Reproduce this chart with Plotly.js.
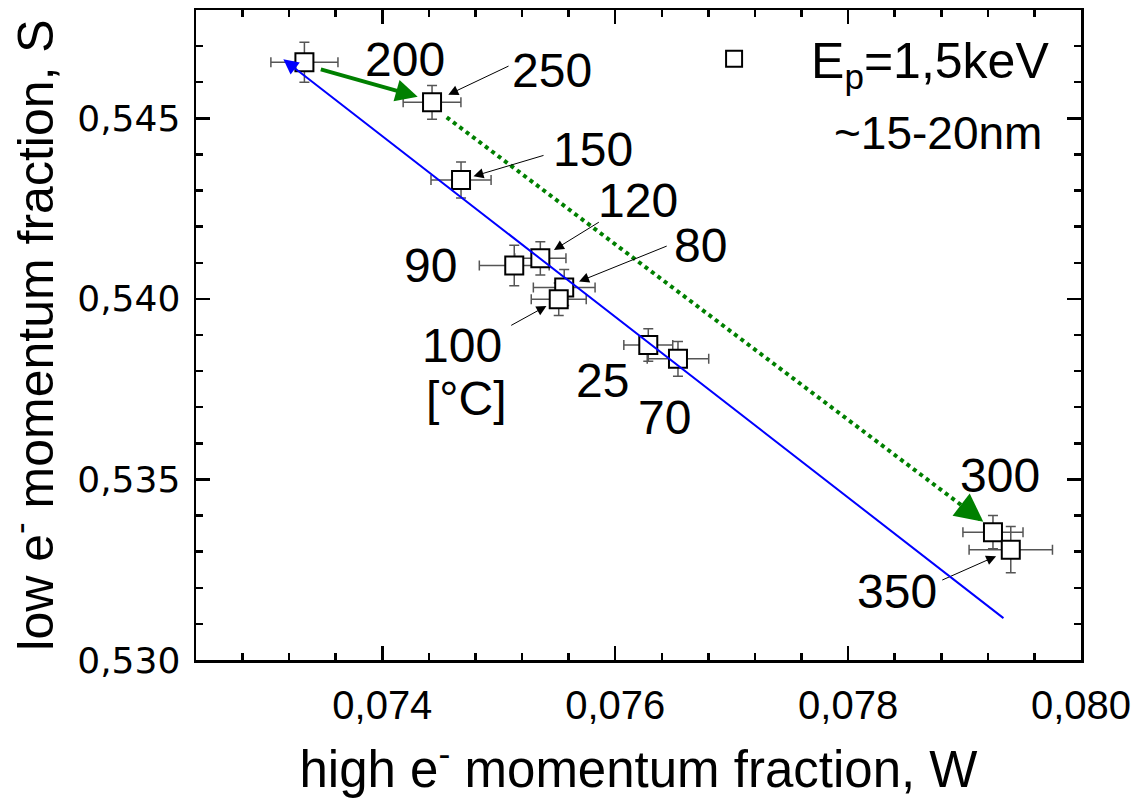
<!DOCTYPE html>
<html>
<head>
<meta charset="utf-8">
<script src="https://cdn.plot.ly/plotly-3.0.1.min.js"></script>
<style>html,body{margin:0;padding:0;background:#fff;}</style>
</head>
<body>
<div id="chart" style="width:1135px;height:803px;"></div>
<script>
// ---- data ----
const labels = ["200", "250", "150", "120", "90", "80", "100", "25", "70", "300", "350"];
const W      = [0.073331, 0.074427, 0.074676, 0.075357, 0.075133, 0.075562, 0.075515, 0.076284, 0.076539, 0.079244, 0.079397];
const S      = [0.546552, 0.545442, 0.543293, 0.541124, 0.540925, 0.540316, 0.539992, 0.538723, 0.538341, 0.533539, 0.533055];
const errW   = [0.000288, 0.000248, 0.000258, 0.000220, 0.000300, 0.000265, 0.000236, 0.000210, 0.000264, 0.000258, 0.000358];
const errS   = [0.000554, 0.000470, 0.000500, 0.000460, 0.000560, 0.000500, 0.000450, 0.000450, 0.000480, 0.000460, 0.000640];

// linear trend (blue arrow): tail, tip
const fitW = [0.079347, 0.073150];
const fitS = [0.531127, 0.546635];
// green solid arrow 200 -> 250: tail, tip
const greenW = [0.073459, 0.074304];
const greenS = [0.546367, 0.545600];
// green dotted arrow 250 -> 300: tail, tip
const dotW = [0.074553, 0.079161];
const dotS = [0.545029, 0.533830];

const xTicks = [0.074, 0.076, 0.078, 0.080];
const yTicks = [0.530, 0.535, 0.540, 0.545];

// ---- label layout: pixel offsets of text & arrows relative to the point ----
const labelFont = {family: "Liberation Sans, Arial, sans-serif", size: 48, color: "#000"};
const textOff = {
  "200": [101, -3], "250": [120, -32], "150": [132, -30], "120": [98, -58],
  "90": [-84, 0], "80": [136, -42], "100": [-97, 46], "25": [-46, 35],
  "70": [-13, 59], "300": [7, -57], "350": [-114, 42]
};
const arrowOff = {
  "250": [78, -37, 18], "150": [84, -25, 13], "120": [60, -37, 16],
  "80": [104, -42, 16], "100": [-49, 27, 14], "350": [-70, 31, 16]
};

const annotations = [];
labels.forEach((lab, i) => {
  const o = textOff[lab];
  annotations.push({x: W[i], y: S[i], xref: "x", yref: "y", text: lab, showarrow: false,
    xshift: o[0], yshift: -o[1], font: labelFont});
  if (arrowOff[lab]) {
    const a = arrowOff[lab];
    annotations.push({x: W[i], y: S[i], xref: "x", yref: "y", text: "", showarrow: true,
      ax: a[0], ay: a[1], standoff: a[2], arrowhead: 2, arrowsize: 2, arrowwidth: 1, arrowcolor: "#000"});
  }
});
// "[°C]" under the 100 label
const i100 = labels.indexOf("100");
annotations.push({x: W[i100], y: S[i100], xref: "x", yref: "y", text: "[°C]", showarrow: false,
  xshift: -92, yshift: -99, font: labelFont});
// blue trend arrow
annotations.push({x: fitW[1], y: fitS[1], ax: fitW[0], ay: fitS[0], xref: "x", yref: "y",
  axref: "x", ayref: "y", text: "", showarrow: true, arrowhead: 2, arrowsize: 1.5,
  arrowwidth: 2, arrowcolor: "#0000ff"});
// green solid arrow
annotations.push({x: greenW[1], y: greenS[1], ax: greenW[0], ay: greenS[0], xref: "x", yref: "y",
  axref: "x", ayref: "y", text: "", showarrow: true, arrowhead: 2, arrowsize: 1.1,
  arrowwidth: 4, arrowcolor: "#008000"});
// head of the dotted green arrow
annotations.push({x: dotW[1], y: dotS[1], xref: "x", yref: "y", text: "", showarrow: true,
  ax: -22, ay: -17, arrowhead: 2, arrowsize: 1.4, arrowwidth: 4, arrowcolor: "#008000"});
// depth note
annotations.push({x: 0.8384, y: 0.81, xref: "paper", yref: "paper", xanchor: "center", yanchor: "middle",
  text: "~15-20nm", showarrow: false,
  font: {family: "Liberation Sans, Arial, sans-serif", size: 46, color: "#000"}});

const traces = [
  {x: dotW, y: dotS, mode: "lines", showlegend: false, hoverinfo: "skip",
   line: {color: "#008000", width: 4, dash: "dot"}},
  {x: W, y: S, mode: "markers", name: "E<sub>p</sub>=1,5keV", text: labels,
   marker: {symbol: "square", size: 18, color: "#fff", line: {color: "#000", width: 2}},
   error_x: {type: "data", array: errW, visible: true, color: "#555", thickness: 1.5, width: 5},
   error_y: {type: "data", array: errS, visible: true, color: "#555", thickness: 1.5, width: 5}}
];

const axisCommon = {
  showgrid: false, zeroline: false, showline: true, linecolor: "#000", linewidth: 2.5,
  mirror: "allticks", ticks: "inside", tickcolor: "#000", tickwidth: 2.5, ticklen: 14,
  tickformat: ".3f"
};

const layout = {
  width: 1135, height: 803,
  margin: {l: 196, r: 54, t: 10, b: 143, pad: 0},
  paper_bgcolor: "#fff", plot_bgcolor: "#fff",
  separators: ", ",
  font: {family: "Liberation Sans, Arial, sans-serif", color: "#000"},
  xaxis: Object.assign({}, axisCommon, {
    range: [0.0724, 0.080], tickvals: xTicks,
    tickfont: {family: "Liberation Sans, Arial, sans-serif", size: 40, color: "#000"},
    ticklabelstandoff: 8,
    minor: {dtick: 0.0004, tick0: 0.074, ticks: "inside", ticklen: 7, tickwidth: 2.5, tickcolor: "#000", showgrid: false},
    title: {text: "high e<sup>-</sup> momentum fraction, W", standoff: 26,
      font: {family: "Liberation Sans, Arial, sans-serif", size: 51, color: "#000"}}
  }),
  yaxis: Object.assign({}, axisCommon, {
    range: [0.530, 0.548], tickvals: yTicks,
    tickfont: {family: "DejaVu Sans, sans-serif", size: 36, color: "#000"},
    ticklabelstandoff: 6,
    minor: {dtick: 0.001, tick0: 0.530, ticks: "inside", ticklen: 7, tickwidth: 2.5, tickcolor: "#000", showgrid: false},
    title: {text: "low e<sup>-</sup> momentum fraction, S", standoff: 16,
      font: {family: "Liberation Sans, Arial, sans-serif", size: 50, color: "#000"}}
  }),
  showlegend: true,
  legend: {x: 0.521, y: 0.985, xanchor: "left", yanchor: "top", bgcolor: "rgba(0,0,0,0)",
    itemwidth: 144, font: {family: "Liberation Sans, Arial, sans-serif", size: 50, color: "#000"}},
  annotations: annotations
};

Plotly.newPlot("chart", traces, layout, {displayModeBar: false, staticPlot: true});
</script>
</body>
</html>
